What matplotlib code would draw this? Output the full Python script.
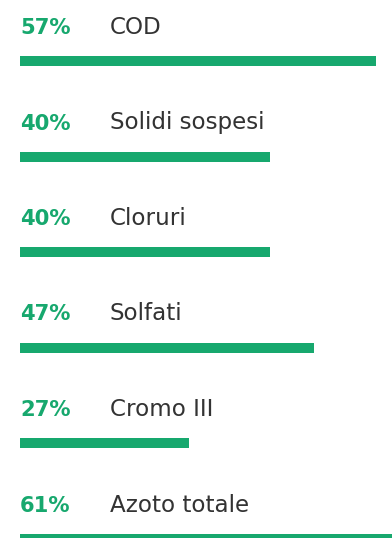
import matplotlib
matplotlib.use("Agg")
import matplotlib.pyplot as plt

# valori percentuali per parametro
parametri = ["COD", "Solidi sospesi", "Cloruri", "Solfati", "Cromo III", "Azoto totale"]
percentuali = [57, 40, 40, 47, 27, 61]

VERDE = "#17a86e"
GRIGIO = "#333333"

W, H = 392, 538
fig = plt.figure(figsize=(W / 100, H / 100), dpi=100)
ax = fig.add_axes([0, 0, 1, 1])

# asse x in punti percentuali: 1% = 6.25 px, origine a 20 px dal bordo
px = 6.25
ax.set_xlim(-20 / px, (W - 20) / px)
ax.set_ylim(H, 0)
ax.axis("off")

passo = 95.5
for i, (nome, p) in enumerate(zip(parametri, percentuali)):
    y_barra = 61 + i * passo
    y_base = 34 + i * passo
    ax.barh(y_barra, p, left=0, height=10, color=VERDE)
    ax.text(0, y_base, f"{p}%", color=VERDE, fontsize=15.2, fontweight="bold",
            family="DejaVu Sans", va="baseline", ha="left")
    ax.text(90 / px, y_base, nome, color=GRIGIO, fontsize=16.6,
            family="DejaVu Sans", va="baseline", ha="left")

fig.savefig("out.png", dpi=100)
